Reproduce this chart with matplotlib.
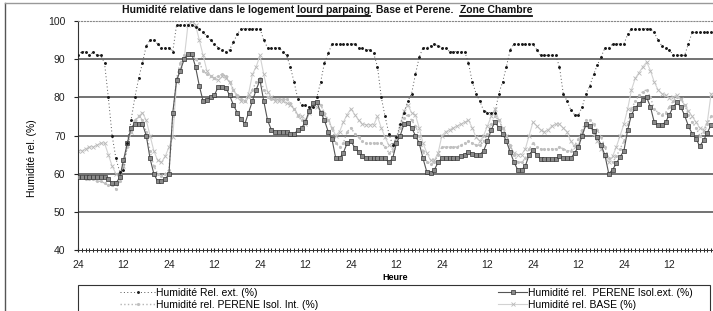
import matplotlib
matplotlib.use("Agg")
import matplotlib.pyplot as plt
import numpy as np
from matplotlib.lines import Line2D
from matplotlib.patches import Rectangle

plt.rcParams['font.family'] = ['Liberation Sans', 'DejaVu Sans']

# hourly values, one row = 12 hours
hum_ext = [
    91, 92, 92, 91, 92, 91, 91, 89, 80, 70, 64, 60.5,
    61, 68, 74, 80, 85, 89, 93.5, 95, 95, 94, 93, 93,
    93, 92, 99, 99, 99, 99, 99, 98.5, 98, 97, 96, 95,
    94, 93, 92.5, 92, 92.5, 94.5, 96.5, 98, 98, 98, 98, 98,
    98, 95, 93, 93, 93, 93, 92, 91, 88, 84, 79.5, 78,
    78, 77.5, 77.5, 80, 84, 89, 91.5, 94, 94, 94, 94, 94,
    94, 94, 93, 93, 92.5, 92.5, 91.5, 88, 80, 75, 70.5, 67.5,
    69.5, 73, 76, 79, 81, 86, 90.5, 93, 93, 93.5, 94, 93.5,
    93, 93, 92, 92, 92, 92, 92, 89, 84, 81, 79, 76.5,
    76, 76, 76, 81, 84, 88, 92.5, 94, 94, 94, 94, 94,
    94, 92.5, 91, 91, 91, 91, 91, 88, 81, 79, 76.7, 75.4,
    75.4, 77.5, 81, 83, 86, 88.5, 90.6, 93, 93, 94, 94, 94,
    94, 96.5, 98, 98, 98, 98, 98, 98, 97, 95, 93.5, 93,
    92.5, 91, 91, 91, 91, 94, 97, 97, 97, 97, 97, 97,
]

perene_ext = [
    59, 59, 59, 59, 59, 59, 59, 59, 58.5, 57.5, 57.5, 59,
    63.5, 68, 72, 73, 73, 73, 70, 64, 60, 58, 58, 58.5,
    60, 76, 84.5, 87, 90, 91.4, 91.4, 88, 83, 79, 79.4, 80,
    80.6, 82.8, 82.8, 82.5, 80.5, 78, 76, 74.3, 73, 76, 79, 82,
    84.5, 79, 74, 71.5, 71, 71, 71, 71, 70.5, 70.3, 71.5, 72,
    73.6, 76.5, 78.5, 78.8, 76, 74, 71, 69, 64, 64, 65.5, 68,
    68.5, 66.8, 65.7, 64.5, 64, 64, 64, 64, 64, 64, 63, 64,
    68, 70, 73, 73.3, 72, 70, 68, 64, 60.5, 60.2, 61, 63,
    64, 64, 64, 64, 64, 64.5, 65, 65.7, 65.2, 65, 65, 66,
    68.5, 71.5, 73.6, 72, 70.5, 68.5, 65.7, 63, 61, 61, 62, 65,
    66.2, 65, 63.8, 63.8, 63.8, 63.8, 63.8, 64.5, 64, 64, 64, 65.5,
    67, 70, 73, 72.5, 71.3, 69.6, 67.5, 64.8, 60, 61, 62.7, 64.4,
    66, 71.5, 75.5, 77.2, 78.3, 79.3, 80, 77.5, 73.5, 72.8, 72.8, 73.5,
    75.5, 77.5, 78.7, 77.5, 75.3, 72.5, 70.5, 69.2, 67.2, 68.7, 70.7, 72.8,
]

perene_int = [
    59, 59, 58.5, 58.5, 58.5, 58, 58, 57.5, 57, 57, 56, 58,
    62, 67, 71, 74, 75, 74, 71, 66, 62, 60, 59.5, 60,
    61, 75, 85, 89, 91, 91, 91, 90, 89, 87, 86, 85.5,
    85, 85.5, 86, 85.5, 84, 82, 80.5, 79.5, 79, 80, 82, 84,
    85, 82, 80, 79.5, 79.5, 79.5, 79.5, 79.5, 78.5, 77, 75, 74,
    74, 76, 78, 79, 78, 76, 74, 72, 68, 67, 68, 71,
    72, 70.5, 69.5, 68.5, 68, 68, 68, 68, 68, 67, 65.5, 66,
    69, 72, 74.5, 75.5, 74, 72.5, 70, 66, 63, 62.5, 63, 65,
    67, 67, 67, 67, 67, 67.5, 68, 68.5, 68, 67.5, 67.5, 68.5,
    70.5, 73, 75, 74, 72, 70, 67.5, 65, 63, 63, 64, 66.5,
    68, 67, 66.5, 66.5, 66.5, 66.5, 66.5, 67, 66.5, 66, 66, 67.5,
    69, 71.5, 74, 74, 73, 71.5, 69.5, 67, 64, 63, 64.5, 66.5,
    68.5, 73, 77, 79, 80.5, 81.5, 82, 80, 77, 76, 75.5, 76,
    77.5, 79, 80, 79.5, 78, 75.5, 73.5, 72, 70, 71, 73, 75,
]

base = [
    66, 66, 66.5, 67, 67, 67.5, 68, 68, 65, 62, 60, 59,
    62, 67.5, 71, 73.5, 75, 76, 74, 70, 66, 63.5, 63, 64.5,
    67, 69.5, 84, 87.5, 90, 99, 100, 99, 95, 91, 87, 85.5,
    85, 84.5, 85.5, 85, 84, 82, 80, 79, 79, 81, 86, 88,
    91, 86, 81.5, 80, 79, 79, 79, 78.5, 78, 77, 75.5, 75,
    73, 76, 78, 77.5, 76.5, 75.5, 74, 72, 70, 71, 73.5, 75.5,
    77, 75.5, 74, 73, 72.8, 72.8, 72.8, 75, 72, 69.5, 67.5, 67,
    69, 72.5, 76.5, 78, 76, 75.4, 72, 68, 65.5, 63.5, 63.5, 65.5,
    70, 71, 71.5, 72, 72.5, 73, 73.5, 74, 72, 69.5, 68.5, 70,
    72.5, 75, 77, 74, 72, 70, 67, 65.5, 65, 65, 66.5, 70,
    73.5, 72.5, 71.5, 71, 71.5, 72.5, 73, 73, 72, 71, 68.5, 67,
    67.5, 71, 72.5, 72.5, 70.5, 68.5, 66.5, 64.5, 63, 64.5, 67, 70,
    73, 77, 82, 85, 86.5, 88, 89.3, 87, 84, 82, 81, 80.5,
    79.8, 80, 80.5, 79.5, 78, 76.5, 75, 73.5, 72, 71.5, 73.5, 81,
]

hours = np.arange(len(hum_ext))
tick_hours = np.arange(0, 168, 12)
tick_labels = ['24' if i % 2 == 0 else '12' for i in range(len(tick_hours))]

labels = ['Humidité Rel. ext. (%)',
          'Humidité rel.  PERENE Isol.ext. (%)',
          'Humidité rel. PERENE Isol. Int. (%)',
          'Humidité rel. BASE (%)']

W, H = 713, 311
fig = plt.figure(figsize=(W / 100, H / 100), dpi=100)
ax = fig.add_axes([78 / W, 1 - 250 / H, 635 / W, 229 / H])

# grid
for v in range(50, 100, 10):
    ax.axhline(v, color='#5a5a5a', lw=1.2, zorder=1)

l_base, = ax.plot(hours, base, '-', color='#d2d2d2', lw=0.8, marker='x',
                  ms=3, mec='#b8b8b8', mew=0.6, zorder=2)
l_int, = ax.plot(hours, perene_int, ':', color='#b5b5b5', lw=1.0, marker='.',
                 ms=2.5, mec='#c0c0c0', mfc='#c0c0c0', zorder=3)
l_pext, = ax.plot(hours, perene_ext, '-', color='#555555', lw=0.8, marker='s',
                  ms=3.2, mfc='#8a8a8a', mec='#333333', mew=0.5, zorder=4)
l_ext, = ax.plot(hours, hum_ext, linestyle=(0, (1, 2.5)), color='#555555', lw=0.7,
                 marker='.', ms=2.2, mfc='#1a1a1a', mec='#1a1a1a', zorder=5)

ax.set_xlim(0, 167.5)
ax.set_ylim(40, 100)
ax.set_yticks(range(40, 101, 10))
ax.set_xticks(tick_hours)
ax.set_xticklabels(tick_labels)
ax.set_xticks(hours, minor=True)
ax.tick_params(axis='both', labelsize=7.5, colors='#222222')
ax.tick_params(axis='y', length=3, pad=6)
ax.tick_params(axis='x', which='major', length=3, direction='inout', pad=6)
ax.tick_params(axis='x', which='minor', length=3, direction='inout', width=0.6)

ax.spines['right'].set_visible(False)
ax.spines['top'].set_linestyle(':')
ax.spines['top'].set_color('#888888')
ax.spines['left'].set_color('#333333')
ax.spines['bottom'].set_color('#333333')
ax.spines['bottom'].set_linewidth(0.7)

ax.set_ylabel('Humidité rel. (%)', fontsize=7.5)
ax.yaxis.set_label_coords(-0.064, 0.4)
ax.set_xlabel('Heure', fontsize=6.5, fontweight='bold', labelpad=2)

# legend: two columns inside one frame
leg_y = 1 - 287.5 / H
leg1 = fig.legend([l_ext, l_int], [labels[0], labels[2]], loc='upper left',
                  bbox_to_anchor=(120 / W, leg_y), frameon=False, fontsize=7.5,
                  handlelength=3.4, handletextpad=0.1, labelspacing=0.25,
                  borderpad=0, borderaxespad=0)
leg2 = fig.legend([l_pext, l_base], [labels[1], labels[3]], loc='upper left',
                  bbox_to_anchor=(498 / W, leg_y), frameon=False, fontsize=7.5,
                  handlelength=2.8, handletextpad=0.1, labelspacing=0.25,
                  borderpad=0, borderaxespad=0)
fig.add_artist(Rectangle((78 / W, -0.1), 632 / W, 0.1 + 1 - 285 / H,
                         transform=fig.transFigure, fill=False,
                         ec='#333333', lw=0.8))

# figure frame
fig.add_artist(Line2D([5 / W, 5 / W], [0, 1 - 3 / H], transform=fig.transFigure,
                      color='#555555', lw=1.0))
fig.add_artist(Line2D([5 / W, 1], [1 - 3 / H, 1 - 3 / H], transform=fig.transFigure,
                      color='#999999', lw=1.0))

# title with underlined parts
fig.canvas.draw()
rend = fig.canvas.get_renderer()
title_kw = dict(fontsize=7.5, fontweight='bold', va='baseline', ha='left',
                color='#111111')
probe = fig.text(0, 0, 'a a', **title_kw)
probe2 = fig.text(0, 0, 'aa', **title_kw)
space_w = probe.get_window_extent(rend).width - probe2.get_window_extent(rend).width
probe.remove()
probe2.remove()

pieces = [('Humidité relative dans le logement', False, 1),
          ('lourd parpaing', True, 0),
          ('. Base et Perene.', False, 2),
          ('Zone Chambre', True, 0)]
x_px = 122
base_y = H - 13
for txt, under, n_sp in pieces:
    t = fig.text(x_px / W, base_y / H, txt, **title_kw)
    bb = t.get_window_extent(rend)
    if under:
        fig.add_artist(Line2D([bb.x0 / W, bb.x1 / W], [(base_y - 3) / H] * 2,
                              transform=fig.transFigure, color='#111111', lw=1.3))
    x_px = bb.x1 + n_sp * space_w

fig.savefig('out.png', dpi=100)
